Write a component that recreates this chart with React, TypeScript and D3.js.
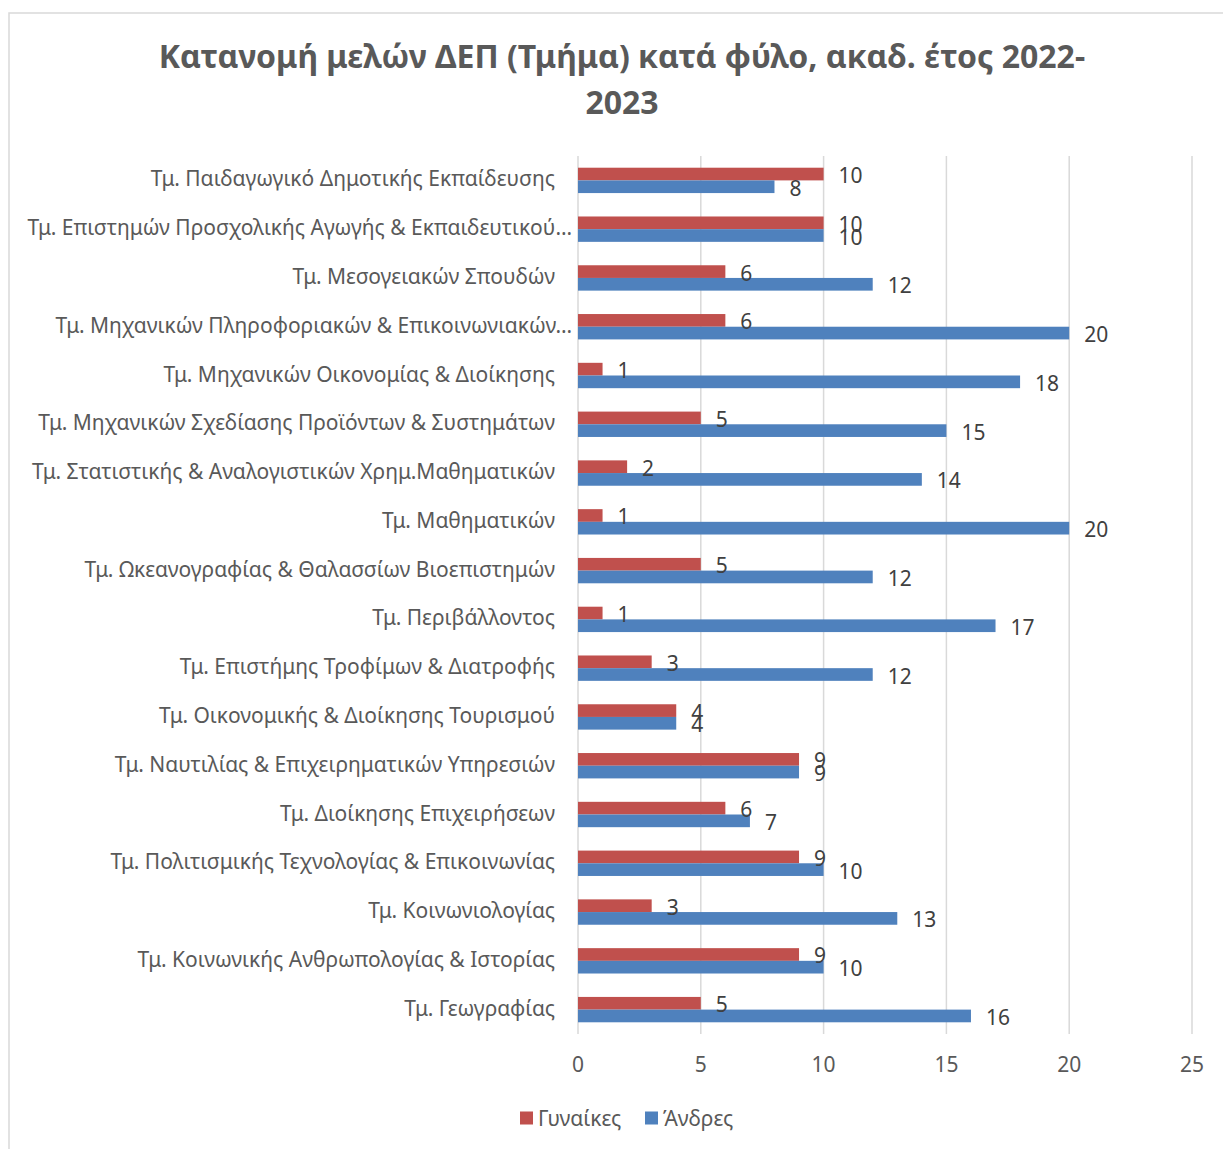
import React from 'react';
import * as d3 from 'd3';

const categories = [
  'Τμ. Παιδαγωγικό Δημοτικής Εκπαίδευσης',
  'Τμ. Επιστημών Προσχολικής Αγωγής & Εκπαιδευτικού…',
  'Τμ. Μεσογειακών Σπουδών',
  'Τμ. Μηχανικών Πληροφοριακών & Επικοινωνιακών…',
  'Τμ. Μηχανικών Οικονομίας & Διοίκησης',
  'Τμ. Μηχανικών Σχεδίασης Προϊόντων & Συστημάτων',
  'Τμ. Στατιστικής & Αναλογιστικών Χρημ.Μαθηματικών',
  'Τμ. Μαθηματικών',
  'Τμ. Ωκεανογραφίας & Θαλασσίων Βιοεπιστημών',
  'Τμ. Περιβάλλοντος',
  'Τμ. Επιστήμης Τροφίμων & Διατροφής',
  'Τμ. Οικονομικής & Διοίκησης Τουρισμού',
  'Τμ. Ναυτιλίας & Επιχειρηματικών Υπηρεσιών',
  'Τμ. Διοίκησης Επιχειρήσεων',
  'Τμ. Πολιτισμικής Τεχνολογίας & Επικοινωνίας',
  'Τμ. Κοινωνιολογίας',
  'Τμ. Κοινωνικής Ανθρωπολογίας & Ιστορίας',
  'Τμ. Γεωγραφίας',
];

const women = [10, 10, 6, 6, 1, 5, 2, 1, 5, 1, 3, 4, 9, 6, 9, 3, 9, 5];
const men = [8, 10, 12, 20, 18, 15, 14, 20, 12, 17, 12, 4, 9, 7, 10, 13, 10, 16];

const seriesNames = ['Γυναίκες', 'Άνδρες'];
const seriesColors = ['#C0504D', '#4F81BD'];
const xTicks = [0, 5, 10, 15, 20, 25];

const titleLines = ['Κατανομή μελών ΔΕΠ (Τμήμα) κατά φύλο, ακαδ. έτος 2022-', '2023'];

const W = 1223;
const H = 1149;
const font = "'Noto Sans', 'Open Sans', sans-serif";

export default function App() {
  const x = d3.scaleLinear().domain([0, 25]).range([578, 1192]);
  const y = d3.scaleBand().domain(categories).range([156, 1034]).paddingInner(0.48).paddingOuter(0.24);
  const y1 = d3.scaleBand().domain(['0', '1']).range([0, y.bandwidth()]);
  const values = [women, men];

  return (
    <div style={{ position: 'absolute', left: 0, top: 0 }}>
      <svg width={W} height={H} style={{ display: 'block', fontFamily: font }}>
        <rect x={0} y={0} width={W} height={H} fill="#fff" />
        <rect x={9} y={13} width={W + 20} height={H + 20} fill="none" stroke="#d9d9d9" strokeWidth={1.5} />

        {titleLines.map((t, i) => (
          <text key={i} x={622} y={55 + i * 46} textAnchor="middle" dominantBaseline="central"
            fontSize={32} fontWeight="bold" fill="#595959">{t}</text>
        ))}

        {xTicks.map((t) => (
          <g key={t}>
            <line x1={x(t)} x2={x(t)} y1={156} y2={1034} stroke="#d9d9d9" strokeWidth={1.5} />
            <text x={x(t)} y={1064} textAnchor="middle" dominantBaseline="central" fontSize={21} fill="#595959">{t}</text>
          </g>
        ))}

        {categories.map((c, i) => (
          <g key={c}>
            <text x={c.endsWith('…') ? 572 : 555} y={(y(c) as number) + y.bandwidth() / 2 - 2} textAnchor="end"
              dominantBaseline="central" fontSize={21} fill="#595959">{c}</text>
            {values.map((vals, s) => {
              const by = (y(c) as number) + (y1(String(s)) as number);
              return (
                <rect key={s} x={x(0)} y={by} width={x(vals[i]) - x(0)} height={y1.bandwidth()} fill={seriesColors[s]} />
              );
            })}
            {values.map((vals, s) => {
              const by = (y(c) as number) + (y1(String(s)) as number);
              return (
                <text key={'l' + s} x={x(vals[i]) + 15} y={by + y1.bandwidth() / 2 + 1} dominantBaseline="central"
                  fontSize={21} fill="#404040">{vals[i]}</text>
              );
            })}
          </g>
        ))}

        {seriesNames.map((n, i) => (
          <g key={n} transform={`translate(${i === 0 ? 520 : 645},1118)`}>
            <rect x={0} y={-6.5} width={13} height={13} fill={seriesColors[i]} />
            <text x={18} y={0} dominantBaseline="central" fontSize={21} fill="#595959">{n}</text>
          </g>
        ))}
      </svg>
    </div>
  );
}
